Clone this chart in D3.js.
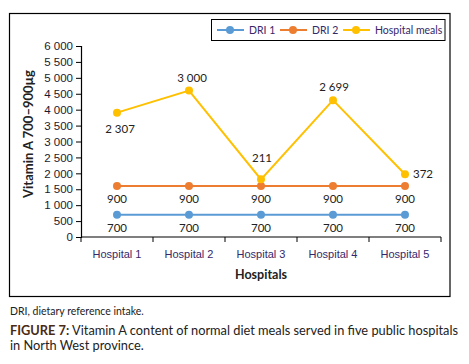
<!DOCTYPE html>
<html>
<head>
<meta charset="utf-8">
<script src="https://cdn.jsdelivr.net/npm/d3@7"></script>
<style>
  body { margin: 0; background: #fff; }
  svg { display: block; font-family: Lato, "Open Sans", sans-serif; }
</style>
</head>
<body>
<svg id="chart" width="469" height="364"></svg>
<script>
// data
const hospitals = ["Hospital 1", "Hospital 2", "Hospital 3", "Hospital 4", "Hospital 5"];
const dri1 = [700, 700, 700, 700, 700];
const dri2 = [900, 900, 900, 900, 900];
const hospitalMeals = [2307, 3000, 211, 2699, 372];
const seriesNames = ["DRI 1", "DRI 2", "Hospital meals"];
const seriesColors = ["#5b9bd5", "#ed7d31", "#ffc000"];
const yTicks = d3.range(0, 6001, 500);

const svg = d3.select("#chart");
const margin = { top: 46, left: 81, right: 28, bottom: 127 };
const width = 469 - margin.left - margin.right;
const height = 364 - margin.top - margin.bottom;

const fmt = v => d3.format(",")(v).replace(/,/g, " ");

// outer frame
svg.append("rect")
    .attr("x", 9.5).attr("y", 13.5)
    .attr("width", 440.5).attr("height", 283)
    .attr("fill", "none").attr("stroke", "#000").attr("stroke-width", 1.2);

const g = svg.append("g").attr("transform", `translate(${margin.left},${margin.top})`);

const x = d3.scaleBand().domain(hospitals).range([0, width]);
const y = d3.scaleLinear().domain([0, 6000]).range([height, 0]);

// stacked lines
const stack = d3.stack().keys([0, 1, 2]).value((d, k) => d[k]);
const rows = hospitals.map((h, i) => [dri1[i], dri2[i], hospitalMeals[i]]);
const layers = stack(rows);

// axes
const yAxis = g.append("g")
    .call(d3.axisLeft(y).tickValues(yTicks).tickSize(5).tickPadding(3).tickFormat(fmt));
yAxis.select(".domain").attr("stroke", "#000").attr("stroke-width", 1.2);
yAxis.selectAll("line").attr("stroke", "#000");
yAxis.selectAll("text").attr("fill", "#1a1a2e").style("font-size", "11.5px");

const xAxis = g.append("g").attr("transform", `translate(0,${height})`)
    .call(d3.axisBottom(x).tickSize(0).tickPadding(13));
xAxis.select(".domain").remove();
xAxis.append("line").attr("x1", 0).attr("x2", width).attr("stroke", "#000").attr("stroke-width", 1.2);
xAxis.selectAll(".tick text").attr("fill", "#35286a").style("font-size", "11px");
g.append("g").selectAll("line")
    .data(d3.range(hospitals.length + 1))
    .join("line")
    .attr("x1", i => i * x.bandwidth()).attr("x2", i => i * x.bandwidth())
    .attr("y1", height).attr("y2", height + 5)
    .attr("stroke", "#000");

const cx = h => x(h) + x.bandwidth() / 2;
const line = d3.line().x((d, i) => cx(hospitals[i])).y(d => y(d[1]));

layers.forEach((layer, k) => {
    g.append("path")
        .datum(layer)
        .attr("d", line)
        .attr("fill", "none")
        .attr("stroke", seriesColors[k])
        .attr("stroke-width", 2);
    g.append("g").selectAll("circle")
        .data(layer)
        .join("circle")
        .attr("cx", (d, i) => cx(hospitals[i]))
        .attr("cy", d => y(d[1]))
        .attr("r", 4)
        .attr("fill", seriesColors[k]);
});

// data labels
const labelOffsets = [
    hospitals.map(() => [0, 17]),
    hospitals.map(() => [0, 17]),
    [[3, 20], [3, -9], [1, -17], [1, -9], [8, 4]]
];
const rawValues = [dri1, dri2, hospitalMeals];
layers.forEach((layer, k) => {
    g.append("g").selectAll("text")
        .data(layer)
        .join("text")
        .attr("x", (d, i) => cx(hospitals[i]) + labelOffsets[k][i][0])
        .attr("y", (d, i) => y(d[1]) + labelOffsets[k][i][1])
        .attr("text-anchor", (d, i) => (k === 2 && i === 4) ? "start" : "middle")
        .attr("fill", "#222")
        .style("font-size", "11.5px")
        .text((d, i) => fmt(rawValues[k][i]));
});

// axis titles
svg.append("text")
    .attr("x", margin.left + width / 2).attr("y", 279)
    .attr("text-anchor", "middle")
    .attr("font-weight", "bold").style("font-size", "12.5px").attr("fill", "#222")
    .text("Hospitals");
svg.append("text")
    .attr("transform", `translate(28,134) rotate(-90)`)
    .attr("text-anchor", "middle")
    .attr("dy", "0.35em")
    .attr("font-weight", "bold").style("font-size", "13px").attr("fill", "#222")
    .text("Vitamin A 700\u2013900\u00b5g");

// legend
const legend = svg.append("g");
legend.append("rect")
    .attr("x", 211.5).attr("y", 19.5).attr("width", 233.5).attr("height", 21)
    .attr("fill", "#fff").attr("stroke", "#000").attr("stroke-width", 1);
const legendX = [217, 280, 343];
seriesNames.forEach((name, k) => {
    const lx = legendX[k];
    legend.append("line")
        .attr("x1", lx).attr("x2", lx + 27).attr("y1", 30).attr("y2", 30)
        .attr("stroke", seriesColors[k]).attr("stroke-width", 2);
    legend.append("circle").attr("cx", lx + 13).attr("cy", 30).attr("r", 4).attr("fill", seriesColors[k]);
    legend.append("text")
        .attr("x", lx + 32).attr("y", 34)
        .attr("fill", "#35286a").style("font-size", "10.5px")
        .text(name);
});

// caption
svg.append("text")
    .attr("x", 10).attr("y", 315)
    .attr("fill", "#222").style("font-size", "10.5px")
    .text("DRI, dietary reference intake.");
const cap = svg.append("text")
    .attr("x", 10).attr("y", 335)
    .attr("fill", "#222").style("font-size", "12.8px");
cap.append("tspan").attr("font-weight", "bold").attr("fill", "#4a2a14").text("FIGURE 7:");
cap.append("tspan").text(" Vitamin A content of normal diet meals served in five public hospitals");
svg.append("text")
    .attr("x", 10).attr("y", 350)
    .attr("fill", "#222").style("font-size", "12.8px")
    .text("in North West province.");
</script>
</body>
</html>
